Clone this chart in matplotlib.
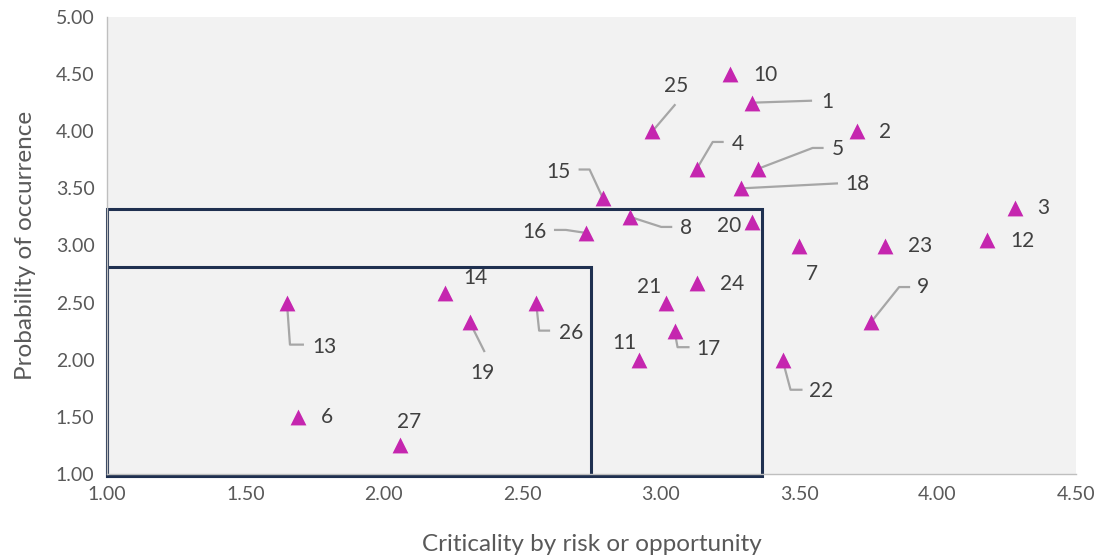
import matplotlib
matplotlib.use("Agg")
import matplotlib.pyplot as plt
from matplotlib.patches import Rectangle

# ---- data ----
ids = [10, 1, 2, 25, 4, 5, 18, 15, 3, 8, 16, 20, 12, 7, 23, 14, 24, 21, 13, 26, 19, 9, 17, 11, 22, 6, 27]
criticality = [3.25, 3.33, 3.71, 2.97, 3.13, 3.35, 3.29, 2.79, 4.28, 2.89, 2.73, 3.33, 4.18, 3.50, 3.81,
               2.22, 3.13, 3.02, 1.65, 2.55, 2.31, 3.76, 3.05, 2.92, 3.44, 1.69, 2.06]
probability = [4.50, 4.25, 4.00, 4.00, 3.67, 3.67, 3.50, 3.42, 3.33, 3.25, 3.11, 3.21, 3.05, 3.00, 3.00,
               2.58, 2.67, 2.50, 2.50, 2.50, 2.33, 2.33, 2.25, 2.00, 2.00, 1.50, 1.25]
x_ticks = [1.00, 1.50, 2.00, 2.50, 3.00, 3.50, 4.00, 4.50]
y_ticks = [1.00, 1.50, 2.00, 2.50, 3.00, 3.50, 4.00, 4.50, 5.00]
# zones (x_min, y_min, x_max, y_max)
zone_outer = (1.00, 0.98, 3.365, 3.32)
zone_inner = (1.00, 0.98, 2.748, 2.81)

# label placement: offset (px right, px down) of label centre, leader vertices (px offsets)
label_layout = {
    10: ((35, 1), None),
    1: ((75, -1), [(0, 0), (60, -2)]),
    2: ((28, 1), None),
    25: ((24, -45), [(0, 0), (23, -27)]),
    4: ((41, -25), [(0, 0), (16, -27), (27, -27)]),
    5: ((80, -20), [(0, 0), (55, -21), (66, -21)]),
    18: ((116, -4), [(0, 0), (97, -5)]),
    15: ((-44, -26), [(0, 0), (-13, -28), (-24, -28)]),
    3: ((28, 0), None),
    8: ((56, 11), [(0, 0), (31, 10), (42, 10)]),
    16: ((-52, -1), [(0, 0), (-20, -3), (-32, -3)]),
    20: ((-23, 4), None),
    12: ((35, 1), None),
    7: ((13, 28), None),
    23: ((35, 0), None),
    14: ((31, -15), None),
    24: ((35, 1), None),
    21: ((-17, -16), None),
    13: ((37, 44), [(0, 0), (3, 42), (17, 42)]),
    26: ((35, 30), [(0, 0), (3, 28), (14, 28)]),
    19: ((13, 51), [(0, 0), (15, 30)]),
    9: ((52, -35), [(0, 0), (28, -35), (39, -35)]),
    17: ((34, 18), [(0, 0), (3, 16), (15, 16)]),
    11: ((-14, -17), None),
    22: ((39, 31), [(0, 0), (8, 30), (20, 30)]),
    6: ((29, 0), None),
    27: ((9, -23), None),
}

FONT = "Lato"
TXT = "#404040"
TICK = "#595959"
MAG = "#C526AF"
NAVY = "#1F3050"
LEAD = "#A6A6A6"

fig = plt.figure(figsize=(10.98, 5.6), dpi=100)
ax = fig.add_axes([107 / 1098, 1 - 474 / 560, (1076 - 107) / 1098, (474 - 17) / 560])
ax.set_facecolor("#F2F2F2")
ax.set_xlim(1.0, 4.5)
ax.set_ylim(1.0, 5.0)

for s in ["top", "right"]:
    ax.spines[s].set_visible(False)
for s in ["left", "bottom"]:
    ax.spines[s].set_color("#BFBFBF")
    ax.spines[s].set_linewidth(1.0)

ax.set_xticks(x_ticks)
ax.set_yticks(y_ticks)
ax.set_xticklabels([f"{v:.2f}" for v in x_ticks], fontfamily=FONT, fontsize=14, color=TICK)
ax.set_yticklabels([f"{v:.2f}" for v in y_ticks], fontfamily=FONT, fontsize=14, color=TICK)
ax.tick_params(length=0, pad=9)
ax.set_xlabel("Criticality by risk or opportunity", fontfamily=FONT, fontsize=17.5, color=TICK, labelpad=22)
ax.set_ylabel("Probability of occurrence", fontfamily=FONT, fontsize=17.5, color=TICK, labelpad=14)

for z in (zone_outer, zone_inner):
    r = Rectangle((z[0], z[1]), z[2] - z[0], z[3] - z[1], fill=False, edgecolor=NAVY,
                  linewidth=2.2, clip_on=False, zorder=2)
    ax.add_patch(r)

ax.scatter(criticality, probability, marker="^", s=130, color=MAG, linewidths=0, zorder=4)

fig.canvas.draw()
inv = ax.transData.inverted()
for i, x, y in zip(ids, criticality, probability):
    (ox, oy), lead = label_layout[i]
    px, py = ax.transData.transform((x, y))
    if lead:
        pts = [inv.transform((px + dx, py - dy)) for dx, dy in lead]
        ax.plot([p[0] for p in pts], [p[1] for p in pts], color=LEAD, lw=1.6, zorder=3,
                solid_capstyle="butt", clip_on=False)
    lx, ly = inv.transform((px + ox, py - oy))
    ax.text(lx, ly, str(i), ha="center", va="center", fontfamily=FONT, fontsize=15,
            color=TXT, zorder=5)

fig.savefig("out.png", dpi=100)
